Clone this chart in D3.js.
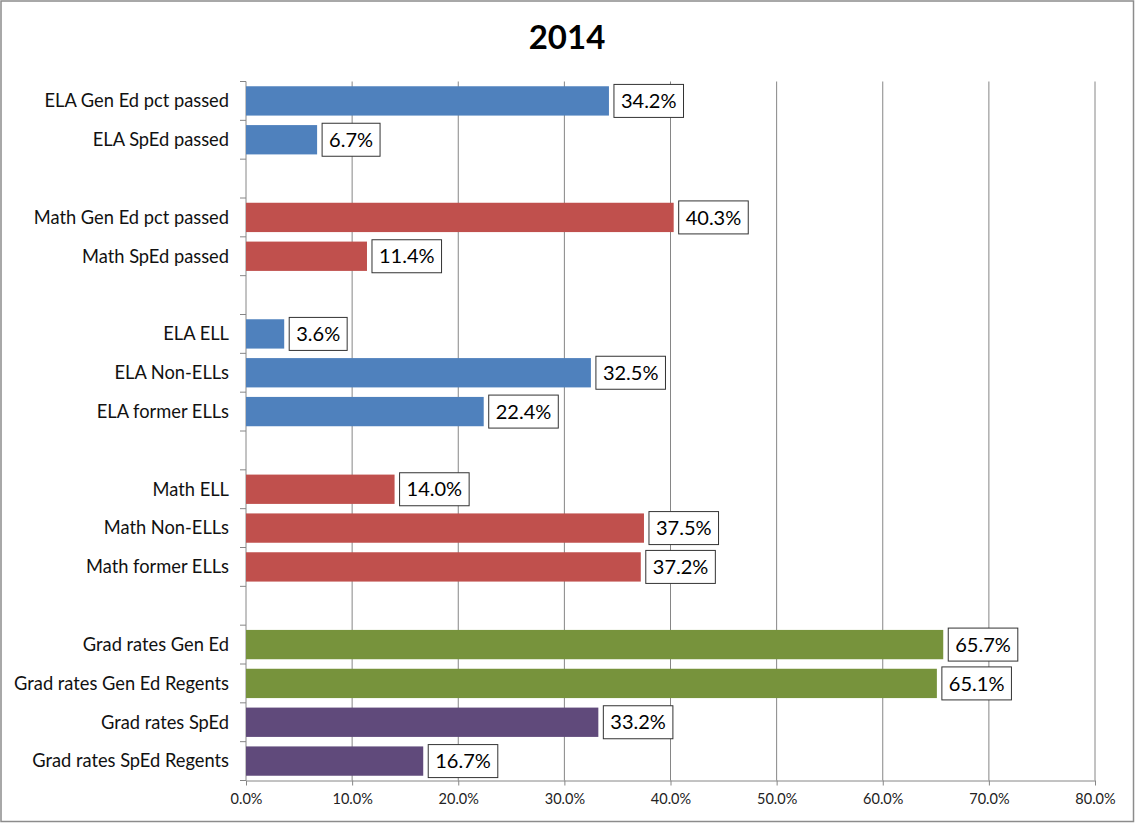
<!DOCTYPE html>
<meta charset="utf-8">
<style>
body { margin: 0; background: #fff; }
svg { font-family: Lato, "Open Sans", sans-serif; }
.axisGray path, .axisGray line { stroke: #868686; }
.axisGray text { fill: #222; }
</style>
<script src="https://cdn.jsdelivr.net/npm/d3@7"></script>
<body>
<script>
// categories, top to bottom; blank rows are gaps between groups
const categories = [
  'ELA Gen Ed pct passed', 'ELA SpEd passed', '',
  'Math Gen Ed pct passed', 'Math SpEd passed', '',
  'ELA ELL', 'ELA Non-ELLs', 'ELA former ELLs', '',
  'Math ELL', 'Math Non-ELLs', 'Math former ELLs', '',
  'Grad rates Gen Ed', 'Grad rates Gen Ed Regents', 'Grad rates SpEd', 'Grad rates SpEd Regents'
];
const values = [
  34.2, 6.7, null,
  40.3, 11.4, null,
  3.6, 32.5, 22.4, null,
  14.0, 37.5, 37.2, null,
  65.7, 65.1, 33.2, 16.7
];
const groups = [
  'ela', 'ela', null,
  'math', 'math', null,
  'ela', 'ela', 'ela', null,
  'math', 'math', 'math', null,
  'gradGen', 'gradGen', 'gradSp', 'gradSp'
];
const xTicks = [0, 10, 20, 30, 40, 50, 60, 70, 80];

const colors = { ela: '#4F81BD', math: '#C0504D', gradGen: '#77933C', gradSp: '#604A7B' };

const W = 1135, H = 823;
const margin = { top: 81.5, right: 40, bottom: 42.5, left: 246 };
const width = W - margin.left - margin.right;
const height = H - margin.top - margin.bottom;

const data = categories.map((c, i) => ({ i, name: c, value: values[i], group: groups[i] }));

const root = d3.select('body').append('svg')
  .attr('width', W)
  .attr('height', H);

// outer frame
root.append('rect')
  .attr('x', 1).attr('y', 1)
  .attr('width', W - 2.5).attr('height', H - 2.5)
  .attr('fill', 'none')
  .attr('stroke', '#8c8c8c')
  .attr('stroke-width', 1.5);

root.append('text')
  .attr('x', 567)
  .attr('y', 49)
  .attr('text-anchor', 'middle')
  .style('font-family', 'Lato, "Open Sans", sans-serif')
  .style('font-weight', 'bold')
  .style('font-size', '33px')
  .text('2014');

const svg = root.append('g')
  .attr('transform', `translate(${margin.left}, ${margin.top})`);

const xScale = d3.scaleLinear()
  .domain([0, 80])
  .range([0, width]);

const yScale = d3.scaleBand()
  .domain(data.map(d => d.i))
  .range([0, height])
  .paddingInner(0.245)
  .paddingOuter(0.1225);

// gridlines
svg.append('g')
  .selectAll('line')
  .data(xTicks.slice(1))
  .join('line')
    .attr('x1', d => xScale(d)).attr('x2', d => xScale(d))
    .attr('y1', 0).attr('y2', height)
    .attr('stroke', '#868686')
    .attr('stroke-width', 1);

// bottom axis
svg.append('g')
  .attr('class', 'axisGray')
  .attr('transform', `translate(0, ${height})`)
  .call(d3.axisBottom(xScale).tickValues(xTicks).tickSize(5).tickSizeOuter(0).tickFormat(d => d.toFixed(1) + '%'))
  .selectAll('text')
    .style('font-size', '14.5px')
    .style('font-family', 'Lato, "Open Sans", sans-serif')
    .attr('dy', '1.05em');

// left axis: line plus ticks at every category boundary
const yAxis = svg.append('g').attr('class', 'axisGray');
yAxis.append('line')
  .attr('x1', 0).attr('x2', 0)
  .attr('y1', 0).attr('y2', height)
  .attr('stroke', '#868686');
yAxis.selectAll('line.tick')
  .data(d3.range(categories.length + 1))
  .join('line')
    .attr('class', 'tick')
    .attr('x1', -6).attr('x2', 0)
    .attr('y1', k => k * yScale.step()).attr('y2', k => k * yScale.step())
    .attr('stroke', '#868686');
yAxis.selectAll('text')
  .data(data.filter(d => d.name))
  .join('text')
    .attr('x', -17)
    .attr('y', d => yScale(d.i) + yScale.bandwidth() / 2)
    .attr('dy', '0.35em')
    .attr('text-anchor', 'end')
    .style('font-size', '18.3px')
    .style('fill', '#111')
    .text(d => d.name);

const bars = data.filter(d => d.value != null);

svg.selectAll('rect.bar')
  .data(bars)
  .join('rect')
    .attr('class', 'bar')
    .attr('x', 0)
    .attr('y', d => yScale(d.i))
    .attr('width', d => xScale(d.value))
    .attr('height', yScale.bandwidth())
    .style('fill', d => colors[d.group]);

// value labels in boxes
const lab = svg.selectAll('g.lab')
  .data(bars)
  .join('g')
    .attr('class', 'lab')
    .attr('transform', d => `translate(${xScale(d.value) + 5}, ${yScale(d.i) + yScale.bandwidth() / 2})`);

lab.append('text')
  .attr('x', 7)
  .attr('dy', '0.36em')
  .style('font-size', '20px')
  .style('fill', '#000')
  .text(d => d.value.toFixed(1) + '%');

lab.insert('rect', 'text')
  .attr('x', 0)
  .attr('y', -16.5)
  .attr('height', 33)
  .attr('width', function () {
    return this.parentNode.querySelector('text').getComputedTextLength() + 14;
  })
  .attr('fill', '#fff')
  .attr('stroke', '#333')
  .attr('stroke-width', 1);
</script>
</body>
</html>
